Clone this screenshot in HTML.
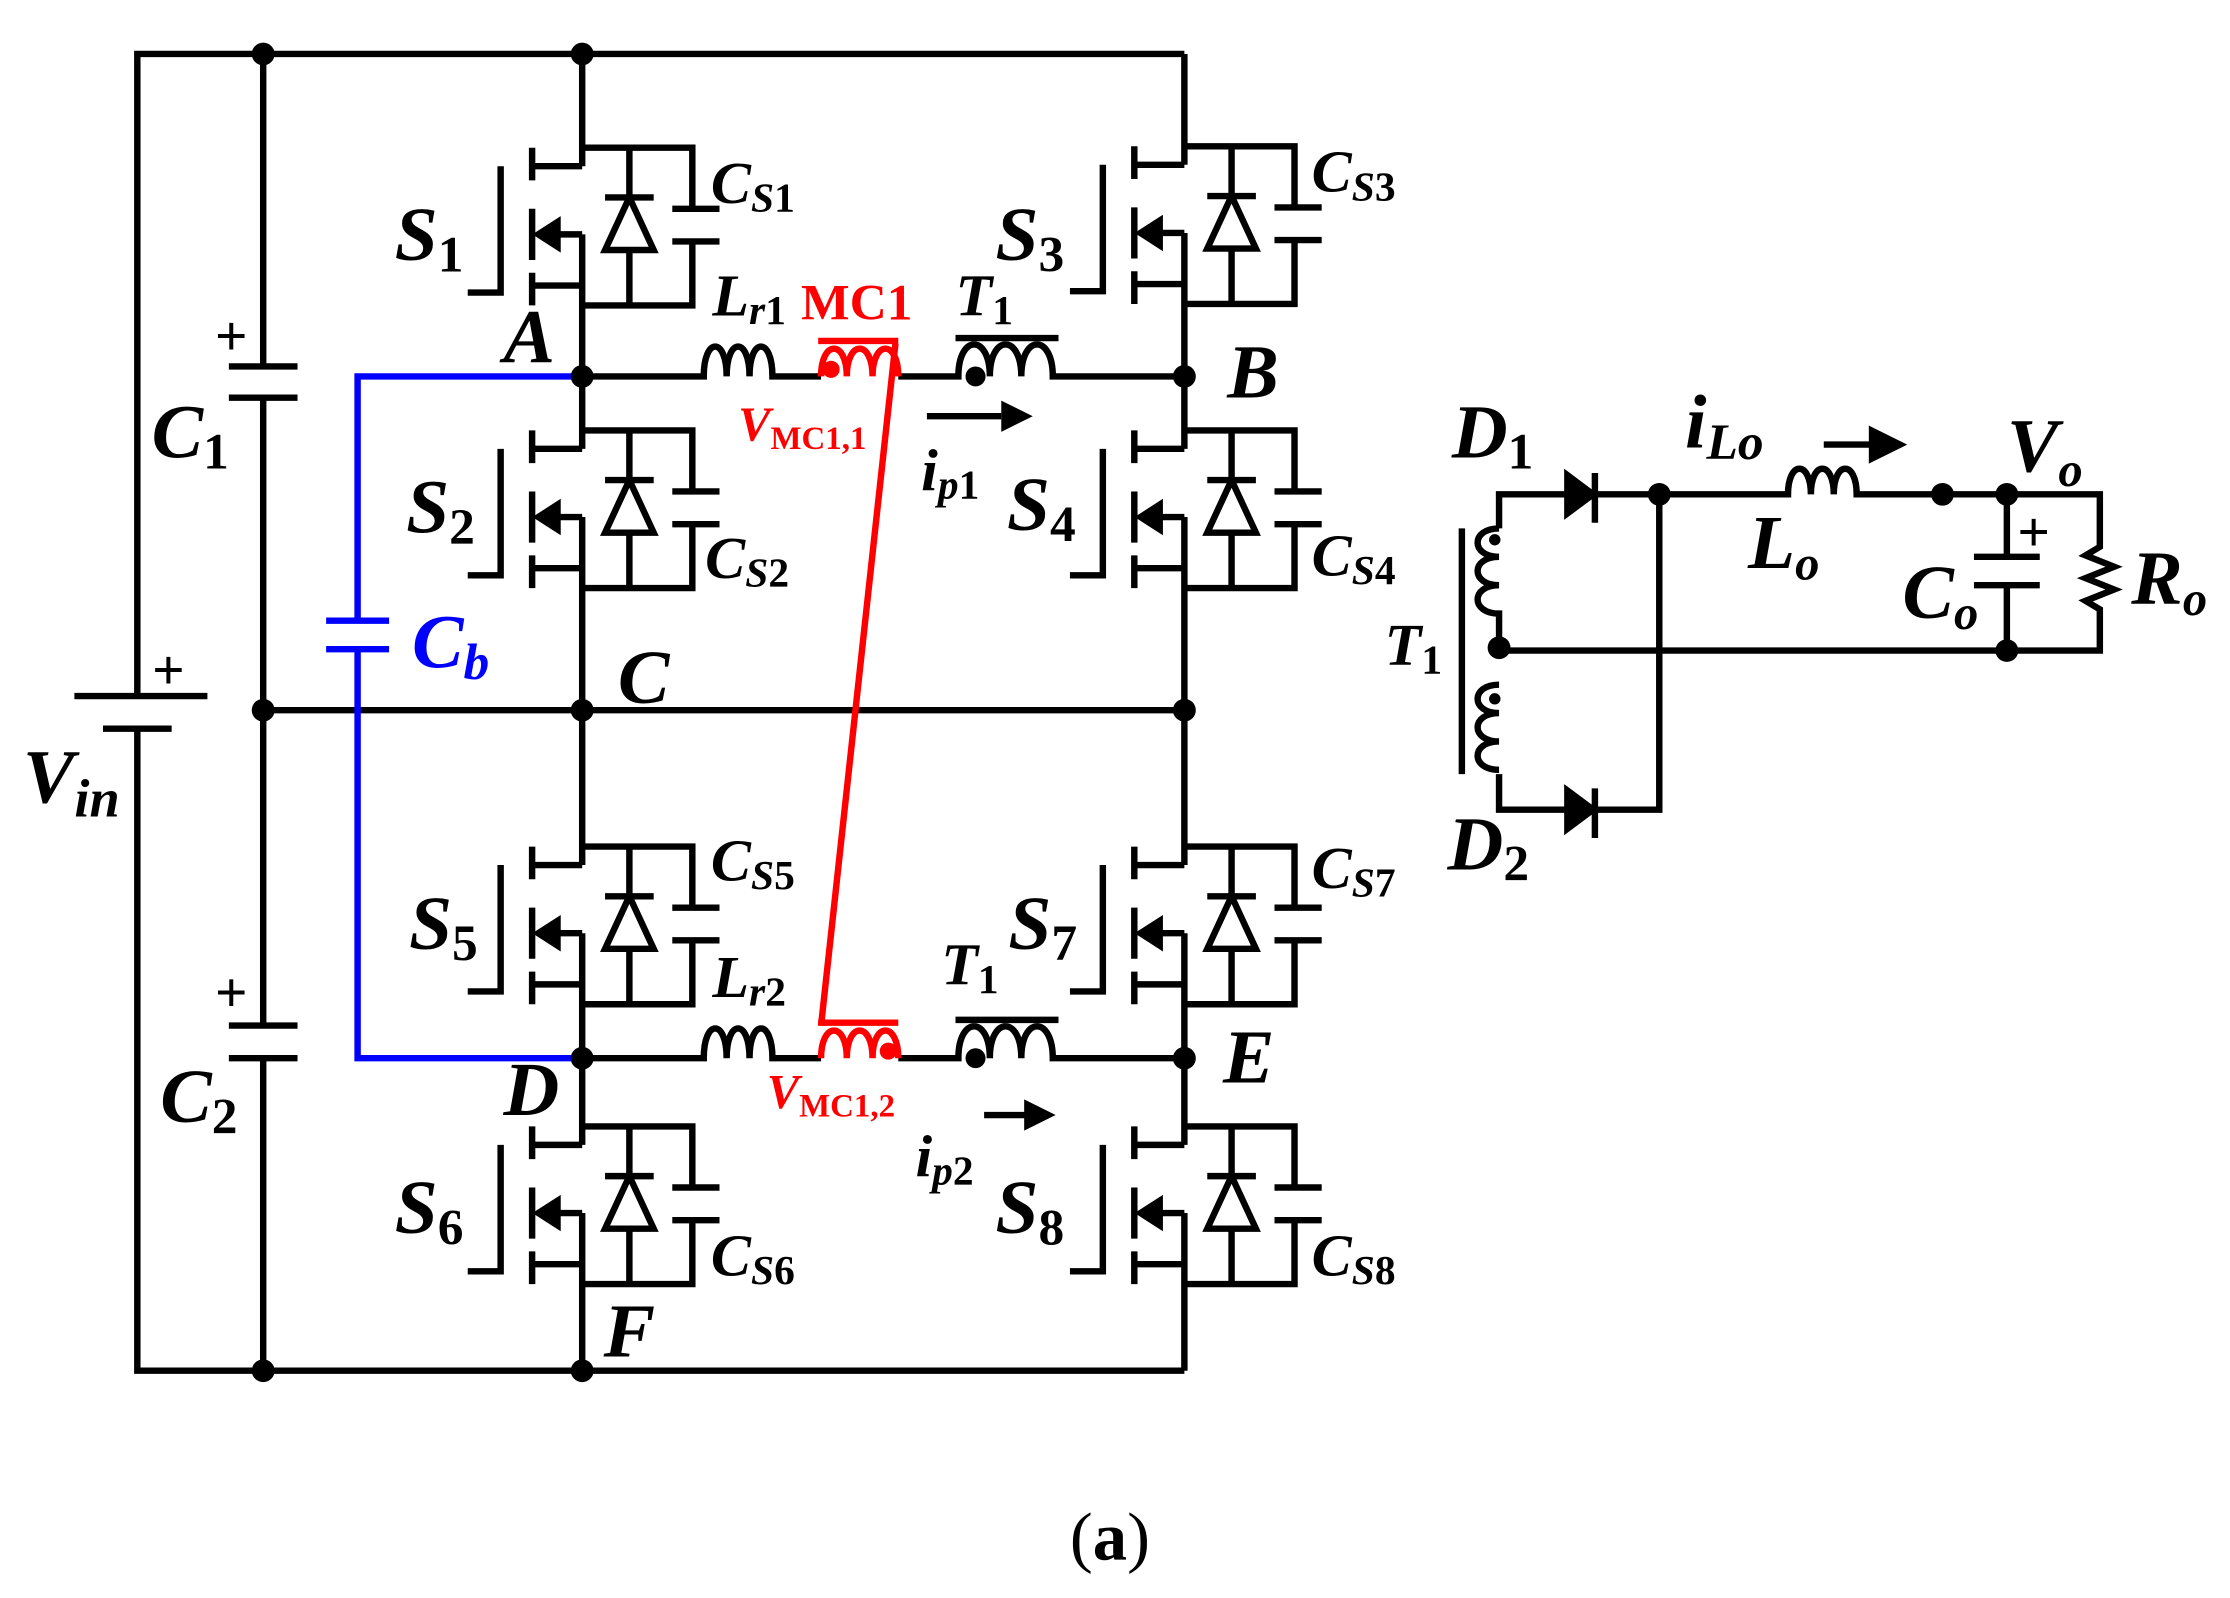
<!DOCTYPE html>
<html><head><meta charset="utf-8"><style>
html,body{margin:0;padding:0;background:#fff;width:2230px;height:1598px;overflow:hidden}
svg{display:block}
text{font-family:"Liberation Serif",serif;font-style:italic;font-weight:bold}
tspan.u{font-style:normal}
</style></head><body>
<svg width="2230" height="1598" viewBox="0 0 1559 1125" preserveAspectRatio="none" xmlns="http://www.w3.org/2000/svg">
<defs>
<g id="sw" stroke="#000" stroke-width="4.5" fill="none">
  <path d="M0,0 H77 V43 M63,43 H96 M63,66 H96 M77,66 V111 H0"/>
  <path d="M33,0 V35 M16,35 H50 M33,72 V111"/>
  <path d="M16,72 H50 L33,35 Z" fill="#fff"/>
  <path d="M-35,0 V23 M-35,43 V79 M-35,88 V111"/>
  <path d="M-35,13 H0 M-18,61 H0 M-35,97 H0"/>
  <path d="M-33,61 L-16,50 L-16,72 Z" fill="#000" stroke-width="2"/>
  <path d="M-57,13 V102 H-80"/>
</g>
</defs>
<g stroke="#000" stroke-width="4.5" fill="none">
  <path d="M96,490 V38 H828 M96,513 V965 H828"/>
  <path d="M52,490 H145 M72,513 H120"/>
  <path d="M184,38 V258 M184,280 V722 M184,745 V965 M160,258 H208 M160,280 H208 M160,722 H208 M160,745 H208"/>
  <path d="M184,500 H828"/>
  <path d="M407,38 V117 M407,165 V316 M407,364 V609 M407,657 V806 M407,854 V965"/>
  <path d="M828,38 V116 M828,164 V316 M828,364 V609 M828,657 V806 M828,854 V965"/>
  <path d="M407,265 H492 c0,-28 16,-28 16,0 c0,-28 16,-28 16,0 c0,-28 16,-28 16,0 H574"/>
  <path d="M628,265 H670 c0,-30 22,-30 22,0 c0,-30 22,-30 22,0 c0,-30 22,-30 22,0 H828"/>
  <path d="M668,238 H740"/>
  <path d="M407,745 H492 c0,-28 16,-28 16,0 c0,-28 16,-28 16,0 c0,-28 16,-28 16,0 H574"/>
  <path d="M628,745 H670 c0,-30 22,-30 22,0 c0,-30 22,-30 22,0 c0,-30 22,-30 22,0 H828"/>
  <path d="M668,718 H740"/>
  <path d="M648,293 H700 M688,785 H718"/>
</g>
<path d="M700,282 L722,293 L700,304 Z M716,774 L738,785 L716,796 Z" fill="#000"/>
<use href="#sw" x="407" y="104"/>
<use href="#sw" x="407" y="303"/>
<use href="#sw" x="407" y="596"/>
<use href="#sw" x="407" y="793"/>
<use href="#sw" x="828" y="103"/>
<use href="#sw" x="828" y="303"/>
<use href="#sw" x="828" y="596"/>
<use href="#sw" x="828" y="793"/>
<g stroke="#f00" stroke-width="4.5" fill="none">
  <path d="M572,240 H628 M572,720 H628"/>
  <path d="M574,265 c0,-26 18,-26 18,0 c0,-26 18,-26 18,0 c0,-26 18,-26 18,0"/>
  <path d="M574,745 c0,-26 18,-26 18,0 c0,-26 18,-26 18,0 c0,-26 18,-26 18,0"/>
  <path d="M626,242 L574,722"/>
</g>
<circle cx="581" cy="260" r="6" fill="#f00"/><circle cx="621" cy="740" r="6" fill="#f00"/>
<g stroke="#00f" stroke-width="4.5" fill="none">
  <path d="M407,265 H250 V437 M250,457 V745 H407 M228,437 H272 M228,457 H272"/>
</g>
<g fill="#000">
  <circle cx="184" cy="38" r="8"/><circle cx="407" cy="38" r="8"/>
  <circle cx="184" cy="500" r="8"/><circle cx="407" cy="500" r="8"/><circle cx="828" cy="500" r="8"/>
  <circle cx="184" cy="965" r="8"/><circle cx="407" cy="965" r="8"/>
  <circle cx="407" cy="265" r="8"/><circle cx="828" cy="265" r="8"/>
  <circle cx="407" cy="745" r="8"/><circle cx="828" cy="745" r="8"/>
  <circle cx="682" cy="265" r="7"/><circle cx="682" cy="745" r="7"/>
</g>
<g stroke="#000" stroke-width="4.5" fill="none">
  <path d="M1022,372 V545"/>
  <path d="M1048,372 V348 H1095 M1115,348 H1250 c0,-24 16,-24 16,0 c0,-24 16,-24 16,0 c0,-24 16,-24 16,0 H1468 V385 l-10,6 l20,8 l-20,8 l20,8 l-20,8 l10,6 V458 H1048"/>
  <path d="M1048,545 V570 H1095 M1115,570 H1160 V348"/>
  <path d="M1048,372 c-20,0 -20,20 0,20 c-20,0 -20,20 0,20 c-20,0 -20,20 0,20 V456"/>
  <path d="M1048,482 c-20,0 -20,20 0,20 c-20,0 -20,20 0,20 c-20,0 -20,20 0,20"/>
  <path d="M1403,348 V392 M1380,392 H1426 M1380,412 H1426 M1403,412 V458"/>
  <path d="M1115,333 V368 M1115,555 V590 M1275,313 H1310"/>
</g>
<path d="M1095,333 L1115,348 L1095,363 Z M1095,555 L1115,570 L1095,585 Z M1308,302 L1330,313 L1308,324 Z" fill="#000" stroke="#000" stroke-width="3"/>
<g fill="#000">
  <circle cx="1160" cy="348" r="8"/><circle cx="1358" cy="348" r="8"/><circle cx="1403" cy="348" r="8"/>
  <circle cx="1048" cy="456" r="8"/><circle cx="1403" cy="458" r="8"/>
  <circle cx="1045" cy="380" r="4"/><circle cx="1045" cy="492" r="4"/>
</g>
<g font-size="54" fill="#000">
  <text x="276" y="183">S<tspan class="u" font-size="36" dy="8">1</tspan></text>
  <text x="284" y="375">S<tspan class="u" font-size="36" dy="8">2</tspan></text>
  <text x="696" y="183">S<tspan class="u" font-size="36" dy="8">3</tspan></text>
  <text x="704" y="373">S<tspan class="u" font-size="36" dy="8">4</tspan></text>
  <text x="286" y="668">S<tspan class="u" font-size="36" dy="8">5</tspan></text>
  <text x="276" y="868">S<tspan class="u" font-size="36" dy="8">6</tspan></text>
  <text x="705" y="668">S<tspan class="u" font-size="36" dy="8">7</tspan></text>
  <text x="696" y="868">S<tspan class="u" font-size="36" dy="8">8</tspan></text>
  <text x="106" y="322">C<tspan class="u" font-size="36" dy="8">1</tspan></text>
  <text x="112" y="790">C<tspan class="u" font-size="36" dy="8">2</tspan></text>
  <text x="16" y="565">V<tspan font-size="38" dy="10">in</tspan></text>
  <text x="352" y="255">A</text>
  <text x="858" y="280">B</text>
  <text x="432" y="495">C</text>
  <text x="352" y="785">D</text>
  <text x="855" y="762">E</text>
  <text x="422" y="955">F</text>
  <text x="1015" y="322">D<tspan class="u" font-size="36" dy="8">1</tspan></text>
  <text x="1012" y="612">D<tspan class="u" font-size="36" dy="8">2</tspan></text>
  <text x="1222" y="400">L<tspan font-size="34" dy="8">o</tspan></text>
  <text x="1330" y="435">C<tspan font-size="34" dy="8">o</tspan></text>
  <text x="1490" y="425">R<tspan font-size="34" dy="8">o</tspan></text>
  <text x="1403" y="332">V<tspan font-size="34" dy="10">o</tspan></text>
  <text x="1178" y="315">i<tspan font-size="36" dy="8">Lo</tspan></text>
</g>
<g font-size="42" fill="#000">
  <text x="497" y="143">C<tspan font-size="29" dy="6">S</tspan><tspan class="u" font-size="29">1</tspan></text>
  <text x="493" y="407">C<tspan font-size="29" dy="6">S</tspan><tspan class="u" font-size="29">2</tspan></text>
  <text x="917" y="135">C<tspan font-size="29" dy="6">S</tspan><tspan class="u" font-size="29">3</tspan></text>
  <text x="917" y="405">C<tspan font-size="29" dy="6">S</tspan><tspan class="u" font-size="29">4</tspan></text>
  <text x="497" y="620">C<tspan font-size="29" dy="6">S</tspan><tspan class="u" font-size="29">5</tspan></text>
  <text x="497" y="898">C<tspan font-size="29" dy="6">S</tspan><tspan class="u" font-size="29">6</tspan></text>
  <text x="917" y="625">C<tspan font-size="29" dy="6">S</tspan><tspan class="u" font-size="29">7</tspan></text>
  <text x="917" y="898">C<tspan font-size="29" dy="6">S</tspan><tspan class="u" font-size="29">8</tspan></text>
  <text x="498" y="222">L<tspan font-size="29" dy="6">r</tspan><tspan class="u" font-size="29">1</tspan></text>
  <text x="498" y="702">L<tspan font-size="29" dy="6">r</tspan><tspan class="u" font-size="29">2</tspan></text>
  <text x="668" y="222">T<tspan class="u" font-size="29" dy="6">1</tspan></text>
  <text x="658" y="693">T<tspan class="u" font-size="29" dy="6">1</tspan></text>
  <text x="968" y="468">T<tspan class="u" font-size="29" dy="6">1</tspan></text>
  <text x="644" y="345">i<tspan font-size="29" dy="6">p</tspan><tspan class="u" font-size="29">1</tspan></text>
  <text x="640" y="828">i<tspan font-size="29" dy="6">p</tspan><tspan class="u" font-size="29">2</tspan></text>
</g>
<text x="288" y="470" font-size="54" fill="#00f">C<tspan font-size="36" dy="8">b</tspan></text>
<text x="560" y="225" font-size="36" fill="#f00" style="font-style:normal">MC1</text>
<text x="516" y="310" font-size="34" fill="#f00">V<tspan class="u" font-size="23" dy="6">MC1,1</tspan></text>
<text x="536" y="780" font-size="34" fill="#f00">V<tspan class="u" font-size="23" dy="6">MC1,2</tspan></text>
<g font-size="40" fill="#000" style="font-style:normal;font-weight:normal">
  <text x="150" y="250">+</text><text x="150" y="712">+</text><text x="106" y="485">+</text><text x="1410" y="388">+</text>
</g>
<text x="748" y="1098" font-size="48" fill="#000" style="font-style:normal;font-weight:normal">(<tspan font-weight="bold">a</tspan>)</text>
</svg>
</body></html>
